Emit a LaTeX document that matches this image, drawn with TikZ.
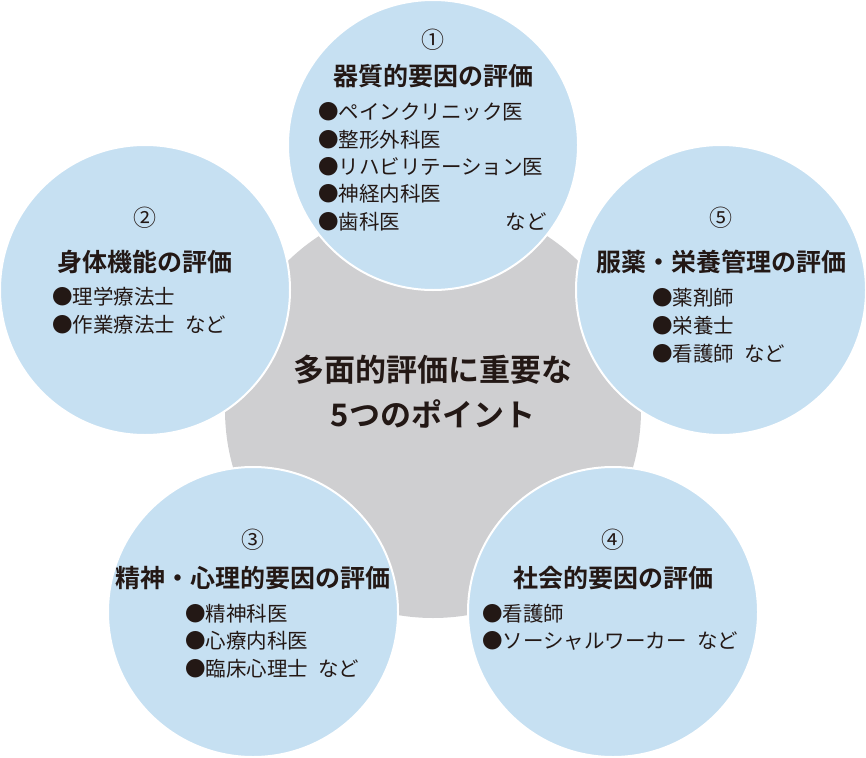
\documentclass[tikz,border=0pt]{standalone}
\usepackage{fontspec}
\setmainfont{Noto Sans CJK JP}[BoldFont={* Bold}]
\definecolor{bluef}{HTML}{C6E0F2}
\definecolor{grayf}{HTML}{CFCFD1}
\definecolor{ink}{HTML}{231815}
\begin{document}
\begin{tikzpicture}[x=1pt,y=-1pt,
  bubble/.style={fill=bluef,draw=white,line width=2pt},
  ttl/.style={text=ink,font=\fontsize{25}{27}\selectfont\bfseries,inner sep=0pt},
  num/.style={text=ink,font=\fontsize{23}{25}\selectfont,inner sep=0pt},
  itm/.style={text=ink,font=\fontsize{20.5}{22}\selectfont,inner sep=0pt,anchor=west},
  ctr/.style={text=ink,font=\fontsize{31}{33}\selectfont\bfseries,inner sep=0pt}]
\useasboundingbox (0,0) rectangle (866,757);
\fill[grayf] (433,410) circle (208);
\draw[bubble] (433,145) circle (145);
\draw[bubble] (145,290) circle (145);
\draw[bubble] (721,290) circle (145);
\draw[bubble] (253,612) circle (145);
\draw[bubble] (613,612) circle (145);
\node[ctr] (c1) at (433,370) {多面的評価に重要な};
\node[ctr] (c2) at (433,414) {5つのポイント};
% top
\node[num] (n1) at (433,40) {①};
\node[ttl] (t1) at (433,76) {器質的要因の評価};
\node[itm] (a1) at (318,112) {●ペインクリニック医};
\node[itm] (a2) at (318,140) {●整形外科医};
\node[itm] (a3) at (318,167) {●リハビリテーション医};
\node[itm] (a4) at (318,194) {●神経内科医};
\node[itm] (a5) at (318,222) {●歯科医};
\node[itm,anchor=east] (a6) at (547,222) {など};
% left
\node[num] (n2) at (145,218) {②};
\node[ttl] (t2) at (145,262) {身体機能の評価};
\node[itm] (b1) at (52,297) {●理学療法士};
\node[itm] (b2) at (52,325) {●作業療法士\hspace{0.5em}など};
% right
\node[num] (n5) at (721,218) {⑤};
\node[ttl] (t5) at (721,262) {服薬・栄養管理の評価};
\node[itm] (e1) at (652,298) {●薬剤師};
\node[itm] (e2) at (652,326) {●栄養士};
\node[itm] (e3) at (652,354) {●看護師\hspace{0.5em}など};
% bottom left
\node[num] (n3) at (253,540) {③};
\node[ttl] (t3) at (253,578) {精神・心理的要因の評価};
\node[itm] (d1) at (185,614) {●精神科医};
\node[itm] (d2) at (185,641) {●心療内科医};
\node[itm] (d3) at (185,669) {●臨床心理士\hspace{0.5em}など};
% bottom right
\node[num] (n4) at (613,540) {④};
\node[ttl] (t4) at (613,578) {社会的要因の評価};
\node[itm] (f1) at (482,614) {●看護師};
\node[itm] (f2) at (482,641) {●ソーシャルワーカー\hspace{0.5em}など};
\end{tikzpicture}
\end{document}
